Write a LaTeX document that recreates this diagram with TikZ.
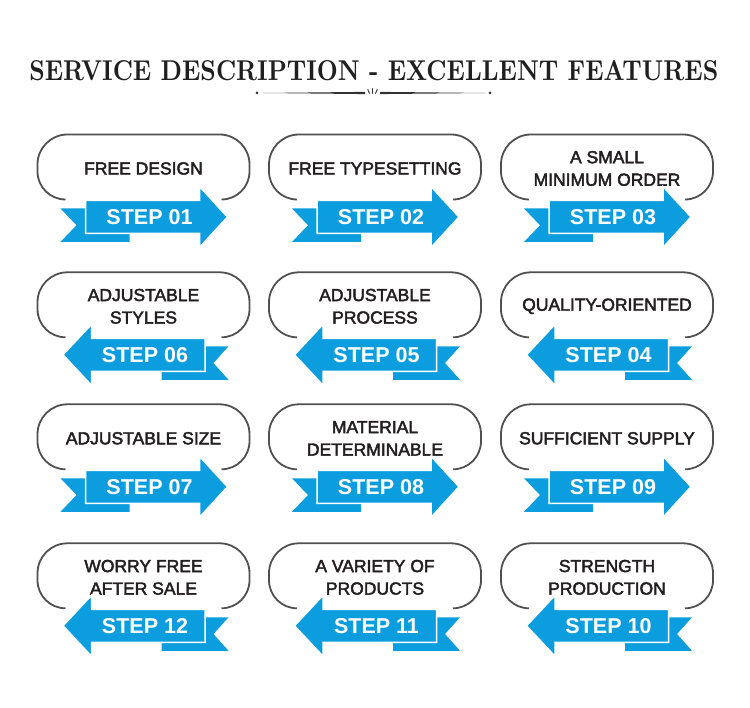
\documentclass[tikz,border=0pt]{standalone}
\usepackage{fontspec}
\setmainfont{Latin Modern Roman}
\newfontfamily\cardfont{Liberation Sans}[FakeBold=2.5]
\newfontfamily\stepfont{Liberation Sans}
\definecolor{arrowblue}{RGB}{12,157,223}
\definecolor{outlinegray}{RGB}{80,80,80}
\definecolor{textdark}{RGB}{35,31,32}
\definecolor{decorgray}{RGB}{50,50,50}
\tikzset{
  outline/.style={draw=outlinegray, line width=1.8pt},
  cardtext/.style={text=textdark, font=\cardfont\fontsize{17.5}{22.5}\selectfont, align=center, inner sep=0pt},
  steptext/.style={text=white, font=\stepfont\bfseries\fontsize{21.5}{24}\selectfont, inner sep=0pt},
  ribbon/.style={fill=arrowblue},
  arrowbody/.style={fill=arrowblue, draw=white, line width=1.5pt, line join=miter},
}
\newcommand\cardframe{%
  \draw[outline] (28,-65) arc[start angle=270, end angle=180, radius=28] -- (0,-30)
    arc[start angle=180, end angle=90, radius=30] -- (182,0)
    arc[start angle=90, end angle=0, radius=30] -- (212,-37)
    arc[start angle=0, end angle=-90, radius=28];}
% #1 x, #2 top y (px), #3 name, #4 text, #5 step
\newcommand\rightcard[5]{%
  \begin{scope}[shift={(#1,708-#2)}]
    \cardframe
    \node[cardtext] (#3t) at (106,-34) {#4};
    \fill[ribbon] (23,-74) -- (92,-74) -- (92,-107.5) -- (23,-107.5) -- (39,-90.75) -- cycle;
    \filldraw[arrowbody] (48,-66) -- (162,-66) -- (162,-52) -- (190,-82.5) -- (162,-113) -- (162,-99) -- (48,-99) -- cycle;
    \node[steptext] (#3s) at (112,-82.5) {#5};
  \end{scope}}
\newcommand\leftcard[5]{%
  \begin{scope}[shift={(#1,708-#2)}]
    \cardframe
    \node[cardtext] (#3t) at (106,-34) {#4};
    \fill[ribbon] (124,-74) -- (191,-74) -- (176,-90.75) -- (191,-107.5) -- (124,-107.5) -- cycle;
    \filldraw[arrowbody] (167.5,-66) -- (54,-66) -- (54,-52) -- (25.5,-82.5) -- (54,-113) -- (54,-99) -- (167.5,-99) -- cycle;
    \node[steptext] (#3s) at (107.5,-82.5) {#5};
  \end{scope}}
\begin{document}
\begin{tikzpicture}[x=1pt,y=1pt]
\useasboundingbox (0,0) rectangle (750,708);
% title
\node[inner sep=0pt, text=black!88] (title) at (373.8,637.5)
  {\resizebox{689pt}{20pt}{\bfseries SERVICE DESCRIPTION - EXCELLENT FEATURES}};
% decoration
\fill[decorgray] (263,615) -- (365,616.1) -- (365,613.9) -- cycle;
\fill[decorgray] (486,615) -- (380,616.1) -- (380,613.9) -- cycle;
\fill[decorgray] (257,615) circle[radius=1.5];
\fill[decorgray] (490,615) circle[radius=1.5];
\draw[decorgray, line width=0.9pt, line cap=round] (372.5,614.5) -- (372.5,619.5);
\draw[decorgray, line width=0.9pt, line cap=round] (369.5,614.5) -- (367.8,618.5);
\draw[decorgray, line width=0.9pt, line cap=round] (375.5,614.5) -- (377.2,618.5);
% row 1
\rightcard{37.5}{134.5}{c1}{FREE DESIGN}{STEP 01}
\rightcard{269}{134.5}{c2}{FREE TYPESETTING}{STEP 02}
\rightcard{501}{134.5}{c3}{A SMALL\\MINIMUM ORDER}{STEP 03}
% row 2
\leftcard{37.5}{272.3}{c6}{ADJUSTABLE\\STYLES}{STEP 06}
\leftcard{269}{272.3}{c5}{ADJUSTABLE\\PROCESS}{STEP 05}
\leftcard{501}{272.3}{c4}{QUALITY-ORIENTED}{STEP 04}
% row 3
\rightcard{37.5}{404.3}{c7}{ADJUSTABLE SIZE}{STEP 07}
\rightcard{269}{404.3}{c8}{MATERIAL\\DETERMINABLE}{STEP 08}
\rightcard{501}{404.3}{c9}{SUFFICIENT SUPPLY}{STEP 09}
% row 4
\leftcard{37.5}{543.3}{c12}{WORRY FREE\\AFTER SALE}{STEP 12}
\leftcard{269}{543.3}{c11}{A VARIETY OF\\PRODUCTS}{STEP 11}
\leftcard{501}{543.3}{c10}{STRENGTH\\PRODUCTION}{STEP 10}
\end{tikzpicture}
\end{document}
